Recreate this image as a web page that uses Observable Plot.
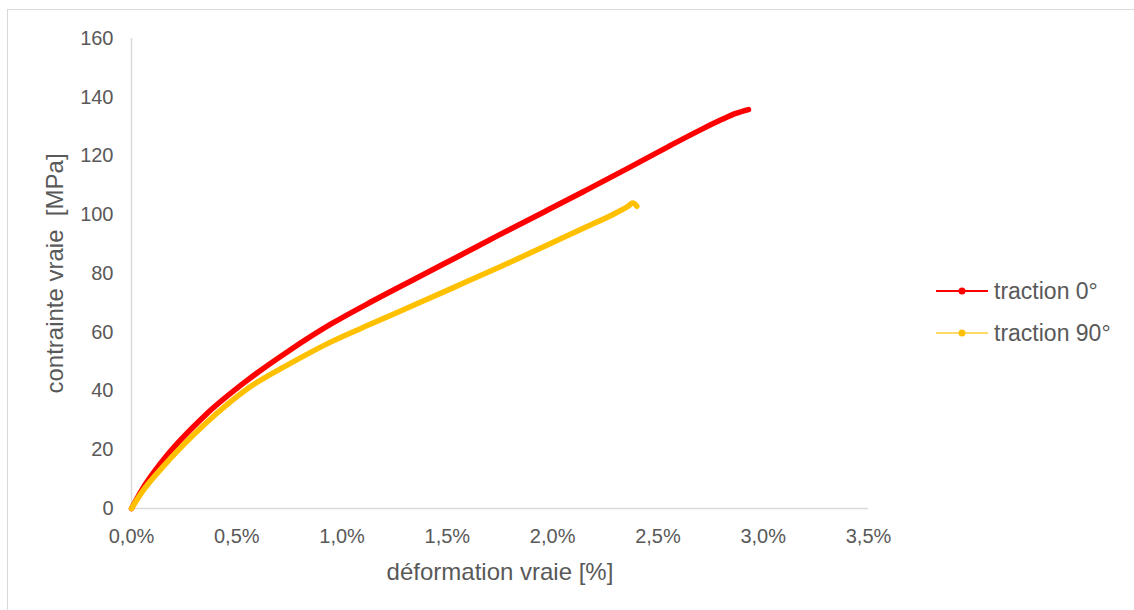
<!DOCTYPE html>
<html>
<head>
<meta charset="utf-8">
<script src="https://cdn.jsdelivr.net/npm/d3@7"></script>
<script src="https://cdn.jsdelivr.net/npm/@observablehq/plot@0.6"></script>
<style>
  html, body { margin: 0; padding: 0; background: #fff; overflow: hidden; }
  body { width: 1134px; height: 610px; position: relative; font-family: "Liberation Sans", Arial, sans-serif; }
  #frame { position: absolute; left: 7px; top: 9px; width: 1300px; height: 800px; border-left: 1.5px solid #d9d9d9; border-top: 1.5px solid #d9d9d9; }
  #chart { position: absolute; left: 0; top: 0; }
  #chart svg { white-space: pre; }
  #legend { position: absolute; left: 936px; top: 270px; color: #595959; font-size: 23px; }
  .row { display: flex; align-items: center; height: 42px; }
  .row svg { margin-right: 6px; }
</style>
</head>
<body>
<div id="frame"></div>
<div id="chart"></div>
<div id="legend"></div>
<script>
// Series names and colours
const seriesNames = ["traction 0°", "traction 90°"];
const seriesColors = ["#FF0000", "#FFC000"];
const legendLineColors = ["#FF0000", "#FFD966"];

// traction 0° : strain [%], stress [MPa]
const strain0 = [0, 0.048, 0.148, 0.349, 0.549, 0.750, 0.950, 1.150, 1.350, 1.551, 1.751, 1.952, 2.152, 2.352, 2.552, 2.700, 2.800, 2.870, 2.930];
const stress0 = [0, 6.2, 16.3, 31.7, 43.6, 53.8, 62.9, 70.8, 78.3, 85.8, 93.3, 100.7, 108.1, 115.6, 123.3, 128.8, 132.3, 134.5, 135.8];

// traction 90°
const strain90 = [0, 0.048, 0.148, 0.349, 0.549, 0.750, 0.950, 1.150, 1.350, 1.551, 1.751, 1.952, 2.152, 2.300, 2.360, 2.380, 2.400];
const stress90 = [0, 5.4, 14.1, 28.8, 40.7, 49.2, 56.8, 63.2, 69.5, 75.9, 82.3, 88.9, 95.6, 100.6, 103.0, 104.0, 102.9];

// Axes
const xTicks = [0, 0.5, 1.0, 1.5, 2.0, 2.5, 3.0, 3.5];
const yTicks = [0, 20, 40, 60, 80, 100, 120, 140, 160];
const xTitle = "déformation vraie [%]";
const yTitle = "contrainte vraie  [MPa]";

const data = [
  ...strain0.map((x, i) => ({x, y: stress0[i], s: seriesNames[0]})),
  ...strain90.map((x, i) => ({x, y: stress90[i], s: seriesNames[1]}))
];

const fmtX = d => d3.format(".1f")(d).replace(".", ",") + "%";
const textColor = "#595959";
const axisColor = "#d9d9d9";

const chart = Plot.plot({
  width: 1134,
  height: 610,
  marginLeft: 131,
  marginRight: 266,
  marginTop: 38,
  marginBottom: 102,
  style: { fontFamily: '"Liberation Sans", Arial, sans-serif', color: textColor, background: "transparent" },
  x: { domain: [0, 3.5] },
  y: { domain: [0, 160] },
  color: { domain: seriesNames, range: seriesColors },
  marks: [
    Plot.ruleX([0], { stroke: axisColor, strokeWidth: 1.5 }),
    Plot.ruleY([0], { stroke: axisColor, strokeWidth: 1.5 }),
    Plot.axisX({ ticks: xTicks, tickFormat: fmtX, tickSize: 0, tickPadding: 20, fontSize: 20, fill: textColor,
      label: xTitle, labelAnchor: "center", labelOffset: 71, labelArrow: "none" }),
    Plot.axisY({ ticks: yTicks, tickSize: 0, tickPadding: 18, fontSize: 20, fill: textColor,
      label: yTitle, labelAnchor: "center", labelOffset: 86, labelArrow: "none" }),
    Plot.line(data, { x: "x", y: "y", z: "s", stroke: "s", strokeWidth: 5.5, curve: "monotone-x", strokeLinecap: "round", strokeLinejoin: "round" })
  ]
});
// axis titles are larger than tick labels
d3.select(chart).selectAll("g[aria-label='x-axis label'] text, g[aria-label='y-axis label'] text").attr("font-size", 24);
document.getElementById("chart").appendChild(chart);

// Legend
const legend = d3.select("#legend");
seriesNames.forEach((name, i) => {
  const row = legend.append("div").attr("class", "row");
  const svg = row.append("svg").attr("width", 52).attr("height", 10);
  svg.append("line").attr("x1", 0).attr("x2", 52).attr("y1", 5).attr("y2", 5)
    .attr("stroke", legendLineColors[i]).attr("stroke-width", 2);
  svg.append("circle").attr("cx", 26).attr("cy", 5).attr("r", 3.5).attr("fill", seriesColors[i]);
  row.append("span").text(name);
});
</script>
</body>
</html>
